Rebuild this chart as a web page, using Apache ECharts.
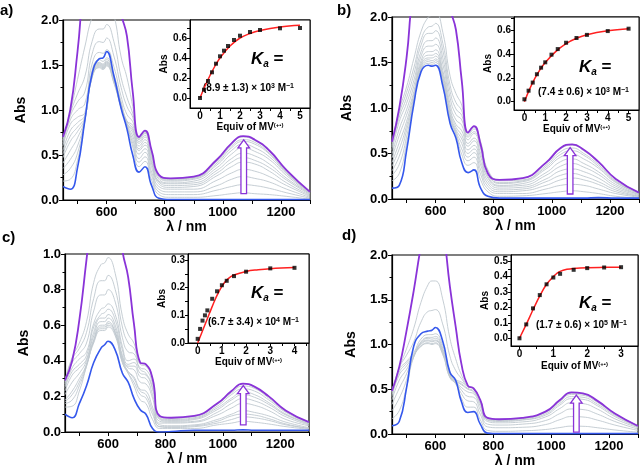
<!DOCTYPE html>
<html><head><meta charset="utf-8">
<script src="https://cdn.jsdelivr.net/npm/echarts@6/dist/echarts.min.js"></script>
<style>html,body{margin:0;padding:0;background:#fff}#c{width:643px;height:472px}</style>
</head><body><div id="c"></div>
<script>
// Wavelength grid (nm) shared by all spectra
const W = [450,475,500,525,550,575,588,600,625,650,670,690,712,732,755,780,820,900,980,1030,1070,1110,1160,1220,1300];
const xLabelVals = [600,800,1000,1200];
const xTickVals = [500,600,700,800,900,1000,1100,1200,1300];

// ---- Panel a ----
const a_blue = [0.15,0.12,0.36,0.88,1.40,1.57,1.58,1.65,1.38,1.02,0.79,0.50,0.31,0.37,0.16,0.02,0.005,0.005,0.005,0.005,0.006,0.006,0.005,0.005,0.005];
const a_purple = [0.70,1.00,1.65,2.40,2.60,2.80,2.85,2.90,2.70,2.08,1.82,1.20,0.70,0.77,0.55,0.28,0.24,0.26,0.45,0.63,0.71,0.67,0.55,0.33,0.09];
const a_gray = [
 [0.21,0.23,0.44,0.87,1.36,1.47,1.45,1.49,1.30,1.02,0.82,0.59,0.37,0.43,0.22,0.06,0.03,0.03,0.05,0.07,0.08,0.07,0.06,0.04,0.01],
 [0.28,0.35,0.52,0.88,1.36,1.48,1.46,1.50,1.31,1.03,0.83,0.63,0.42,0.48,0.27,0.09,0.06,0.06,0.11,0.15,0.17,0.16,0.13,0.08,0.02],
 [0.35,0.45,0.60,0.89,1.37,1.49,1.47,1.51,1.32,1.03,0.83,0.67,0.46,0.53,0.31,0.12,0.09,0.09,0.16,0.23,0.26,0.24,0.20,0.12,0.03],
 [0.41,0.55,0.69,0.90,1.38,1.50,1.48,1.52,1.33,1.04,0.84,0.71,0.51,0.57,0.36,0.15,0.12,0.12,0.22,0.30,0.34,0.32,0.26,0.16,0.04],
 [0.47,0.65,0.76,0.91,1.39,1.51,1.49,1.53,1.34,1.05,0.85,0.75,0.55,0.61,0.40,0.18,0.14,0.15,0.27,0.37,0.42,0.40,0.32,0.19,0.05],
 [0.51,0.71,0.81,0.92,1.40,1.52,1.50,1.54,1.35,1.05,0.85,0.78,0.57,0.64,0.42,0.20,0.16,0.17,0.30,0.42,0.47,0.44,0.36,0.22,0.06],
 [0.55,0.77,0.86,0.94,1.41,1.53,1.51,1.56,1.36,1.07,0.87,0.80,0.60,0.67,0.45,0.21,0.18,0.19,0.33,0.46,0.52,0.49,0.40,0.24,0.07],
 [0.60,0.84,0.92,0.97,1.44,1.56,1.54,1.58,1.39,1.09,0.88,0.83,0.63,0.70,0.48,0.23,0.19,0.21,0.36,0.51,0.58,0.54,0.45,0.27,0.07],
 [0.63,0.89,1.00,1.07,1.51,1.64,1.63,1.67,1.48,1.15,0.95,0.87,0.65,0.72,0.50,0.25,0.21,0.23,0.39,0.55,0.62,0.58,0.48,0.29,0.08],
 [0.66,0.93,1.09,1.20,1.62,1.76,1.75,1.80,1.60,1.25,1.04,0.92,0.67,0.74,0.52,0.26,0.22,0.24,0.41,0.58,0.65,0.62,0.51,0.30,0.08],
 [0.67,0.96,1.18,1.37,1.76,1.90,1.90,1.95,1.76,1.36,1.14,0.96,0.68,0.75,0.53,0.27,0.23,0.25,0.43,0.60,0.67,0.64,0.52,0.31,0.09],
 [0.69,0.98,1.34,1.70,2.03,2.19,2.21,2.25,2.06,1.59,1.36,1.04,0.69,0.76,0.54,0.28,0.235,0.25,0.44,0.62,0.70,0.66,0.54,0.32,0.09]
];
const a_eq = [0,0.2,0.4,0.6,0.8,1.0,1.2,1.4,1.7,2.0,2.5,3.0,4.0,5.0];
const a_abs = [0.0,0.083,0.17,0.257,0.343,0.417,0.473,0.52,0.58,0.623,0.66,0.68,0.697,0.70];
const a_fitX = [0,0.25,0.5,0.75,1,1.5,2,2.5,3,4,5];
const a_fitY = [0,0.12,0.225,0.32,0.40,0.52,0.60,0.645,0.675,0.71,0.727];

// ---- Panel b ----
const b_blue = [0.12,0.15,0.53,1.04,1.40,1.47,1.46,1.47,1.24,0.83,0.67,0.40,0.29,0.32,0.12,0.03,0.01,0.01,0.01,0.01,0.01,0.01,0.015,0.01,0.01];
const b_purple = [0.63,1.00,1.55,2.30,2.50,2.80,2.85,2.90,2.70,2.10,1.86,1.30,0.73,0.80,0.60,0.28,0.21,0.23,0.40,0.56,0.60,0.54,0.41,0.22,0.07];
const b_gray = [
 [0.20,0.28,0.61,1.06,1.42,1.49,1.48,1.50,1.27,0.87,0.71,0.49,0.37,0.40,0.21,0.08,0.03,0.035,0.06,0.08,0.09,0.08,0.06,0.03,0.01],
 [0.26,0.38,0.68,1.08,1.43,1.51,1.50,1.52,1.29,0.89,0.72,0.55,0.42,0.46,0.27,0.11,0.06,0.06,0.11,0.15,0.16,0.15,0.11,0.06,0.02],
 [0.31,0.47,0.75,1.09,1.45,1.53,1.52,1.54,1.31,0.90,0.74,0.61,0.46,0.51,0.32,0.14,0.08,0.09,0.15,0.21,0.23,0.21,0.16,0.08,0.03],
 [0.36,0.55,0.80,1.12,1.47,1.55,1.55,1.57,1.34,0.93,0.76,0.66,0.50,0.55,0.37,0.17,0.10,0.11,0.19,0.26,0.28,0.25,0.19,0.10,0.03],
 [0.40,0.62,0.85,1.15,1.49,1.58,1.58,1.60,1.37,0.96,0.79,0.70,0.54,0.59,0.41,0.20,0.12,0.13,0.22,0.31,0.33,0.30,0.23,0.12,0.04],
 [0.45,0.70,0.92,1.18,1.52,1.62,1.62,1.64,1.41,0.99,0.82,0.75,0.58,0.64,0.46,0.23,0.14,0.15,0.26,0.36,0.39,0.35,0.27,0.14,0.05],
 [0.49,0.77,0.98,1.24,1.57,1.68,1.68,1.70,1.48,1.04,0.87,0.81,0.61,0.67,0.50,0.25,0.15,0.17,0.29,0.41,0.44,0.39,0.30,0.16,0.05],
 [0.54,0.85,1.05,1.30,1.62,1.74,1.74,1.77,1.55,1.11,0.93,0.87,0.65,0.72,0.55,0.28,0.17,0.19,0.33,0.46,0.49,0.44,0.34,0.18,0.06],
 [0.57,0.90,1.11,1.37,1.69,1.82,1.82,1.85,1.63,1.18,0.99,0.92,0.68,0.74,0.58,0.29,0.18,0.20,0.35,0.49,0.53,0.48,0.36,0.19,0.06],
 [0.59,0.94,1.17,1.44,1.75,1.89,1.90,1.93,1.71,1.25,1.06,0.97,0.70,0.77,0.60,0.31,0.20,0.21,0.37,0.52,0.56,0.50,0.38,0.20,0.07],
 [0.62,0.98,1.23,1.54,1.84,2.00,2.02,2.05,1.83,1.35,1.16,1.03,0.72,0.79,0.63,0.32,0.21,0.23,0.39,0.55,0.59,0.53,0.40,0.22,0.07]
];
const b_eq = [0,0.2,0.4,0.6,0.8,1.0,1.3,1.6,2.0,2.5,3.0,4.0,5.0];
const b_abs = [0.02,0.092,0.16,0.23,0.285,0.33,0.394,0.441,0.494,0.534,0.56,0.592,0.612];
const b_fitX = [0,0.25,0.5,0.75,1,1.5,2,2.5,3,4,5];
const b_fitY = [0,0.105,0.195,0.268,0.328,0.42,0.487,0.532,0.562,0.594,0.612];

// ---- Panel c ----
const c_blue = [0.10,0.08,0.16,0.26,0.39,0.47,0.49,0.51,0.46,0.33,0.28,0.19,0.125,0.10,0.02,0.0,0.003,0.01,0.01,0.01,0.012,0.01,0.01,0.01,0.01];
const c_purple = [0.29,0.40,0.63,0.97,1.30,1.45,1.47,1.52,1.38,1.02,0.87,0.61,0.39,0.38,0.30,0.09,0.08,0.09,0.16,0.23,0.272,0.255,0.20,0.12,0.056];
const c_gray = [
 [0.14,0.145,0.23,0.37,0.50,0.57,0.57,0.59,0.54,0.39,0.33,0.26,0.18,0.16,0.07,0.02,0.02,0.02,0.04,0.05,0.06,0.055,0.045,0.03,0.015],
 [0.16,0.18,0.26,0.37,0.51,0.58,0.58,0.60,0.55,0.39,0.33,0.28,0.21,0.19,0.10,0.03,0.025,0.03,0.05,0.07,0.085,0.08,0.065,0.04,0.02],
 [0.17,0.21,0.28,0.38,0.51,0.59,0.59,0.61,0.56,0.40,0.34,0.30,0.23,0.21,0.12,0.03,0.03,0.035,0.06,0.09,0.10,0.095,0.075,0.045,0.02],
 [0.18,0.23,0.30,0.38,0.52,0.60,0.60,0.62,0.56,0.41,0.34,0.31,0.24,0.23,0.14,0.04,0.035,0.04,0.07,0.10,0.12,0.11,0.09,0.055,0.025],
 [0.21,0.28,0.33,0.40,0.54,0.62,0.62,0.64,0.58,0.42,0.36,0.35,0.28,0.27,0.19,0.05,0.05,0.055,0.095,0.135,0.16,0.15,0.12,0.07,0.035],
 [0.23,0.32,0.36,0.41,0.56,0.64,0.64,0.66,0.60,0.43,0.37,0.37,0.31,0.30,0.21,0.06,0.055,0.06,0.11,0.16,0.187,0.175,0.14,0.085,0.04],
 [0.25,0.34,0.38,0.43,0.59,0.66,0.67,0.69,0.63,0.46,0.38,0.39,0.33,0.32,0.24,0.07,0.06,0.07,0.125,0.18,0.209,0.195,0.155,0.095,0.045],
 [0.26,0.36,0.41,0.45,0.61,0.69,0.70,0.72,0.66,0.48,0.40,0.41,0.35,0.33,0.25,0.075,0.065,0.075,0.135,0.19,0.225,0.21,0.165,0.10,0.047],
 [0.27,0.39,0.44,0.50,0.68,0.77,0.77,0.80,0.73,0.53,0.45,0.44,0.36,0.35,0.27,0.08,0.07,0.08,0.145,0.21,0.242,0.23,0.18,0.11,0.05],
 [0.28,0.41,0.47,0.56,0.75,0.85,0.85,0.88,0.80,0.59,0.50,0.47,0.38,0.37,0.29,0.086,0.077,0.086,0.155,0.22,0.258,0.245,0.19,0.115,0.054],
 [0.29,0.42,0.50,0.62,0.84,0.94,0.95,0.98,0.89,0.65,0.55,0.50,0.39,0.38,0.30,0.09,0.08,0.09,0.158,0.228,0.27,0.252,0.198,0.119,0.055]
];
const c_eq = [0,0.1,0.2,0.3,0.4,0.6,0.8,1.0,1.2,1.5,2.0,3.0,4.0];
const c_abs = [0.015,0.051,0.081,0.10,0.118,0.16,0.187,0.209,0.225,0.242,0.258,0.27,0.272];
const c_fitX = [0,0.25,0.5,0.75,1.0,1.25,1.5,2,2.5,3,4];
const c_fitY = [0,0.055,0.11,0.163,0.205,0.232,0.246,0.259,0.265,0.269,0.273];

// ---- Panel d ----
const d_blue = [0.093,0.14,0.51,0.98,1.12,1.15,1.16,1.19,1.04,0.69,0.60,0.36,0.24,0.25,0.11,0.01,0.004,0.004,0.004,0.004,0.004,0.004,0.004,0.004,0.004];
const d_purple = [0.48,0.75,1.15,1.60,2.10,2.50,2.60,2.60,2.30,1.65,1.20,0.78,0.54,0.51,0.38,0.18,0.165,0.18,0.25,0.38,0.465,0.455,0.37,0.23,0.09];
const d_gray = [
 [0.17,0.26,0.52,0.86,0.98,1.01,1.00,1.01,0.89,0.63,0.56,0.40,0.30,0.30,0.16,0.04,0.03,0.035,0.05,0.072,0.088,0.086,0.07,0.045,0.02],
 [0.26,0.40,0.60,0.86,0.98,1.02,1.01,1.02,0.90,0.63,0.57,0.45,0.37,0.36,0.22,0.08,0.07,0.075,0.105,0.16,0.195,0.19,0.155,0.10,0.04],
 [0.33,0.51,0.67,0.87,1.00,1.04,1.03,1.04,0.92,0.65,0.58,0.49,0.42,0.41,0.27,0.11,0.10,0.11,0.15,0.228,0.28,0.273,0.222,0.14,0.055],
 [0.38,0.60,0.72,0.87,1.01,1.05,1.04,1.05,0.92,0.65,0.58,0.52,0.47,0.45,0.31,0.14,0.125,0.135,0.19,0.285,0.35,0.34,0.278,0.17,0.07],
 [0.42,0.66,0.76,0.88,1.02,1.07,1.06,1.07,0.94,0.66,0.59,0.55,0.50,0.47,0.34,0.155,0.14,0.155,0.21,0.323,0.395,0.387,0.315,0.195,0.077],
 [0.44,0.69,0.79,0.89,1.03,1.08,1.08,1.09,0.96,0.68,0.60,0.56,0.51,0.48,0.35,0.16,0.15,0.16,0.225,0.342,0.418,0.41,0.333,0.21,0.08],
 [0.46,0.72,0.81,0.91,1.06,1.11,1.11,1.12,0.99,0.70,0.61,0.58,0.53,0.50,0.37,0.17,0.157,0.17,0.24,0.361,0.442,0.432,0.352,0.22,0.085],
 [0.47,0.74,0.88,1.03,1.25,1.37,1.38,1.39,1.23,0.87,0.71,0.62,0.53,0.51,0.37,0.18,0.162,0.177,0.245,0.372,0.456,0.446,0.363,0.225,0.088],
 [0.48,0.74,0.95,1.18,1.47,1.67,1.71,1.71,1.51,1.07,0.84,0.66,0.54,0.51,0.38,0.18,0.163,0.178,0.248,0.376,0.46,0.45,0.366,0.228,0.089]
];
const d_eq = [0,0.2,0.4,0.6,0.8,1.0,1.2,1.6,2.0,2.5,3.0];
const d_abs = [0,0.09,0.194,0.28,0.35,0.394,0.418,0.444,0.455,0.459,0.461];
const d_fitX = [0,0.2,0.4,0.6,0.8,1.0,1.1,1.2,1.4,1.6,2,2.5,3];
const d_fitY = [0,0.09,0.185,0.275,0.35,0.40,0.42,0.434,0.447,0.453,0.458,0.46,0.461];

// arrows (wavelength, start Abs, tip Abs) per panel
const arrowX = [1072,1063,1071,1087];
const arrowY0 = [0.07,0.055,0.04,0.02];
const arrowY1 = [0.667,0.565,0.26,0.435];

const kaTexts = ['(8.9 ± 1.3) × 10{s|3} M{s|−1}','(7.4 ± 0.6) × 10{s|3} M{s|−1}','(6.7 ± 3.4) × 10{s|4} M{s|−1}','(1.7 ± 0.6) × 10{s|5} M{s|−1}'];

// ---------------- layout / styling ----------------
const FONT = '"Liberation Sans", Arial, sans-serif';
const GRAY = '#bfc8cf', BLUE = '#3558ec', PURPLE = '#8a33d8', RED = '#ff2020';

const panels = [
 {blue:a_blue,purple:a_purple,gray:a_gray,eq:a_eq,abs:a_abs,fx:a_fitX,fy:a_fitY,
  main:{left:63,top:20,width:247,height:180}, ymax:2, yint:0.5, yGap:35, xGap:19,
  inset:{left:190,top:20,width:120,height:88}, ix:[-0.5,5.5], ixl:[0,1,2,3,4,5], ixt:[0,0.5,1,1.5,2,2.5,3,3.5,4,4.5,5],
  iy:[-0.1,0.78], iyl:[0,0.2,0.4,0.6], iyt:[0,0.1,0.2,0.3,0.4,0.5,0.6,0.7], iyGap:18, ixGap:12,
  label:['a)',0,3], ka:[251,51], kaf:[203,83]},
 {blue:b_blue,purple:b_purple,gray:b_gray,eq:b_eq,abs:b_abs,fx:b_fitX,fy:b_fitY,
  main:{left:392,top:17,width:247,height:182}, ymax:2, yint:0.5, yGap:38, xGap:19,
  inset:{left:514,top:17,width:125,height:93}, ix:[-0.5,5.5], ixl:[0,1,2,3,4,5], ixt:[0,0.5,1,1.5,2,2.5,3,3.5,4,4.5,5],
  iy:[-0.07,0.71], iyl:[0,0.2,0.4,0.6], iyt:[0,0.1,0.2,0.3,0.4,0.5,0.6,0.7], iyGap:21, ixGap:12,
  label:['b)',337,3], ka:[579,59], kaf:[538,87]},
 {blue:c_blue,purple:c_purple,gray:c_gray,eq:c_eq,abs:c_abs,fx:c_fitX,fy:c_fitY,
  main:{left:65,top:254,width:244,height:178}, ymax:1, yint:0.2, yGap:34, xGap:20,
  inset:{left:188,top:254,width:121,height:89}, ix:[-0.4,4.6], ixl:[0,1,2,3,4], ixt:[0,0.5,1,1.5,2,2.5,3,3.5,4,4.5],
  iy:[0,0.322], iyl:[0,0.1,0.2,0.3], iyt:[0,0.05,0.1,0.15,0.2,0.25,0.3], iyGap:21, ixGap:14,
  label:['c)',2,230], ka:[251,285], kaf:[208,317]},
 {blue:d_blue,purple:d_purple,gray:d_gray,eq:d_eq,abs:d_abs,fx:d_fitX,fy:d_fitY,
  main:{left:392,top:255,width:246,height:179}, ymax:2, yint:0.5, yGap:34, xGap:19,
  inset:{left:511,top:255,width:127,height:91}, ix:[-0.25,3.5], ixl:[0,1,2,3], ixt:[0,0.5,1,1.5,2,2.5,3],
  iy:[-0.05,0.54], iyl:[0,0.1,0.2,0.3,0.4,0.5], iyt:[0,0.05,0.1,0.15,0.2,0.25,0.3,0.35,0.4,0.45,0.5], iyGap:19, ixGap:15,
  label:['d)',342,228], ka:[579,295], kaf:[536,320]}
];

const grids=[], xAxes=[], yAxes=[], series=[], graphics=[];
const lbl = (size)=>({color:'#000', fontWeight:'bold', fontSize:size, fontFamily:FONT});
const fmt1 = v => Number(v).toFixed(1);
const fmt0 = v => String(Math.round(v));

function lineSeries(gi, xs, ys, color, width, z, smooth){
  return {type:'line', xAxisIndex:gi, yAxisIndex:gi, data:xs.map((x,j)=>[x,ys[j]]),
    showSymbol:false, symbol:'none', smooth:smooth, clip:true, z:z, silent:true,
    lineStyle:{color:color, width:width}, animation:false};
}

panels.forEach((p,i)=>{
  const gm = grids.length;
  grids.push(Object.assign({show:true, borderColor:'#000', borderWidth:1.2, backgroundColor:'rgba(0,0,0,0)'}, p.main));
  xAxes.push({gridIndex:gm, type:'value', min:450, max:1300,
    axisLine:{show:true, onZero:false, lineStyle:{color:'#000', width:1.2}},
    axisTick:{show:true, customValues:xTickVals, length:4, lineStyle:{color:'#000', width:1}},
    axisLabel:Object.assign({customValues:xLabelVals, formatter:fmt0, margin:6, hideOverlap:false}, lbl(13)),
    splitLine:{show:false},
    name:'λ / nm', nameLocation:'middle', nameGap:p.xGap, nameTextStyle:lbl(14)});
  yAxes.push({gridIndex:gm, type:'value', min:0, max:p.ymax, interval:p.yint,
    axisLine:{show:true, onZero:false, lineStyle:{color:'#000', width:1.2}},
    axisTick:{show:true, length:4, lineStyle:{color:'#000', width:1}},
    minorTick:{show:true, splitNumber:2, length:2.5, lineStyle:{color:'#000', width:1}},
    axisLabel:Object.assign({formatter:fmt1, margin:4}, lbl(13)),
    splitLine:{show:false},
    name:'Abs', nameLocation:'middle', nameGap:p.yGap, nameRotate:90, nameTextStyle:lbl(14)});
  p.gray.forEach(g=>series.push(lineSeries(gm, W, g, GRAY, 0.9, 2, 0.5)));
  series.push(lineSeries(gm, W, p.blue, BLUE, 1.6, 3, 0.5));
  series.push(lineSeries(gm, W, p.purple, PURPLE, 1.8, 4, 0.5));
  series.push({type:'custom', xAxisIndex:gm, yAxisIndex:gm, z:6, silent:true, animation:false,
    data:[[arrowX[i], arrowY0[i], arrowY1[i]]], encode:{x:0, y:[1,2]},
    renderItem:function(params, api){
      const pb = api.coord([api.value(0), api.value(1)]);
      const pt = api.coord([api.value(0), api.value(2)]);
      const cx = pb[0], sw = 2.8, hw = 5.8, hh = 8;
      return {type:'polygon', shape:{points:[[cx-sw,pb[1]],[cx-sw,pt[1]+hh],[cx-hw,pt[1]+hh],[cx,pt[1]],[cx+hw,pt[1]+hh],[cx+sw,pt[1]+hh],[cx+sw,pb[1]]]},
        style:{fill:'#fff', stroke:PURPLE, lineWidth:1.3}};
    }});

  const gi = grids.length;
  grids.push(Object.assign({show:true, borderColor:'#000', borderWidth:1, backgroundColor:'#fff'}, p.inset));
  xAxes.push({gridIndex:gi, type:'value', min:p.ix[0], max:p.ix[1],
    axisLine:{show:true, onZero:false, lineStyle:{color:'#000', width:1}},
    axisTick:{show:true, customValues:p.ixt, length:3, lineStyle:{color:'#000', width:1}},
    axisLabel:Object.assign({customValues:p.ixl, formatter:fmt0, margin:3}, lbl(10)),
    splitLine:{show:false},
    name:'{n|Equiv of MV}{s|(+•)}', nameLocation:'middle', nameGap:p.ixGap,
    nameTextStyle:{rich:{n:lbl(10), s:Object.assign({verticalAlign:'top', padding:[0,0,4,0]}, lbl(6))}}});
  yAxes.push({gridIndex:gi, type:'value', min:p.iy[0], max:p.iy[1],
    axisLine:{show:true, onZero:false, lineStyle:{color:'#000', width:1}},
    axisTick:{show:true, customValues:p.iyt, length:3, lineStyle:{color:'#000', width:1}},
    axisLabel:Object.assign({customValues:p.iyl, formatter:fmt1, margin:3}, lbl(10)),
    splitLine:{show:false},
    name:'Abs', nameLocation:'middle', nameGap:p.iyGap, nameRotate:90, nameTextStyle:lbl(10)});
  series.push(lineSeries(gi, p.fx, p.fy, RED, 1.5, 3, 0.4));
  series.push({type:'scatter', xAxisIndex:gi, yAxisIndex:gi, data:p.eq.map((x,j)=>[x,p.abs[j]]),
    symbol:'rect', symbolSize:4, itemStyle:{color:'#000'}, z:4, silent:true, animation:false});

  graphics.push({type:'text', left:p.label[1], top:p.label[2], style:{text:p.label[0], fill:'#000', font:'bold 15px '+FONT}});
  graphics.push({type:'text', left:p.ka[0], top:p.ka[1], style:{text:'{k|K}{a|a}{e| =}', rich:{
    k:{fontStyle:'italic', fontWeight:'bold', fontSize:17, fontFamily:FONT, fill:'#000', lineHeight:20},
    a:{fontStyle:'italic', fontWeight:'bold', fontSize:10, fontFamily:FONT, fill:'#000', verticalAlign:'bottom', lineHeight:20},
    e:{fontWeight:'bold', fontSize:17, fontFamily:FONT, fill:'#000', lineHeight:20}}}});
  graphics.push({type:'text', left:p.kaf[0], top:p.kaf[1], style:{text:kaTexts[i], font:'bold 10px '+FONT, fill:'#000', rich:{
    s:{fontWeight:'bold', fontSize:7, fontFamily:FONT, fill:'#000', verticalAlign:'top'}}}});
});

const chart = echarts.init(document.getElementById('c'));
chart.setOption({animation:false, backgroundColor:'#fff', grid:grids, xAxis:xAxes, yAxis:yAxes, series:series, graphic:graphics});
</script></body></html>
